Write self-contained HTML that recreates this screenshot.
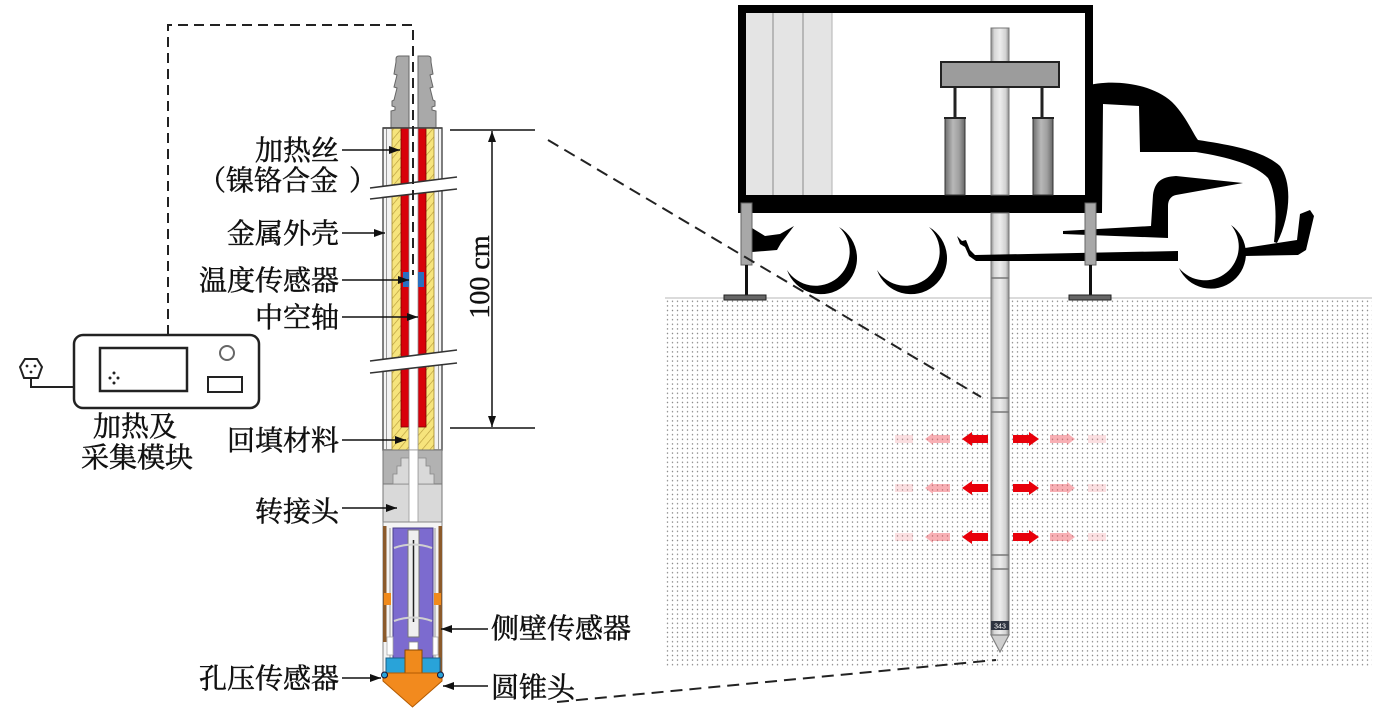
<!DOCTYPE html>
<html><head><meta charset="utf-8">
<style>
html,body{margin:0;padding:0;background:#fff;width:1385px;height:716px;overflow:hidden;}
svg{display:block;}
.lb{font-family:"Liberation Serif","Noto Serif CJK SC",serif;font-size:28px;fill:#111;stroke:#111;stroke-width:0.5px;}
</style></head><body>
<svg width="1385" height="716" viewBox="0 0 1385 716" xmlns="http://www.w3.org/2000/svg">
<defs>
<pattern id="dots" width="5" height="4.6" patternUnits="userSpaceOnUse"><circle cx="2.5" cy="2.3" r="0.75" fill="#8a8a8a"/></pattern>
<pattern id="hatch" width="6" height="6" patternUnits="userSpaceOnUse" patternTransform="rotate(40)"><rect width="6" height="6" fill="#f6e47c"/><line x1="0" y1="0" x2="0" y2="6" stroke="#b89c3c" stroke-width="1.3"/></pattern>
<linearGradient id="rod" x1="0" x2="1" y1="0" y2="0">
<stop offset="0" stop-color="#8a8a8a"/><stop offset="0.18" stop-color="#d6d6d6"/><stop offset="0.5" stop-color="#ededed"/><stop offset="0.82" stop-color="#d2d2d2"/><stop offset="1" stop-color="#8a8a8a"/>
</linearGradient>
<linearGradient id="cyl" x1="0" x2="1" y1="0" y2="0">
<stop offset="0" stop-color="#6e6e6e"/><stop offset="0.4" stop-color="#b8b8b8"/><stop offset="0.7" stop-color="#a0a0a0"/><stop offset="1" stop-color="#666"/>
</linearGradient>
<marker id="ah" markerWidth="11" markerHeight="8" refX="11" refY="4" orient="auto-start-reverse" markerUnits="userSpaceOnUse"><path d="M0,0 L11,4 L0,8 Z" fill="#111"/></marker>
</defs>

<!-- ============ GROUND ============ -->
<rect x="665" y="298" width="707" height="370" fill="url(#dots)"/>
<line x1="665" y1="298" x2="1372" y2="298" stroke="#cfcfcf" stroke-width="1.5"/>

<!-- ============ TRUCK ============ -->
<rect x="738" y="5" width="355" height="208" fill="#000"/>
<rect x="746" y="13" width="339" height="182" fill="#fff"/>
<rect x="746" y="13" width="86" height="182" fill="#e4e4e4"/>
<line x1="773" y1="13" x2="773" y2="195" stroke="#a8a8a8" stroke-width="1.5"/>
<line x1="803" y1="13" x2="803" y2="195" stroke="#a8a8a8" stroke-width="1.5"/>
<line x1="832" y1="13" x2="832" y2="195" stroke="#bdbdbd" stroke-width="1.2"/>

<!-- rod -->
<rect x="991" y="28" width="18" height="167" fill="url(#rod)" stroke="#777" stroke-width="1"/>
<rect x="991" y="213" width="18" height="422" fill="url(#rod)" stroke="#777" stroke-width="1"/>
<g stroke="#777" stroke-width="1.5">
<line x1="991" y1="278" x2="1009" y2="278"/>
<line x1="991" y1="398" x2="1009" y2="398"/>
<line x1="991" y1="412" x2="1009" y2="412"/>
<line x1="991" y1="555" x2="1009" y2="555"/>
<line x1="991" y1="569" x2="1009" y2="569"/>
</g>
<rect x="991" y="621" width="18" height="9" fill="#2e3440"/>
<text x="1000" y="628.5" text-anchor="middle" font-family="Liberation Sans, sans-serif" font-size="7" fill="#fff">343</text>
<path d="M991,635 L1009,635 L1000,652 Z" fill="#cfcfcf" stroke="#808080" stroke-width="1.2"/>

<!-- crossbar + cylinders -->
<line x1="955" y1="87" x2="955" y2="118" stroke="#222" stroke-width="3"/>
<line x1="1042" y1="87" x2="1042" y2="118" stroke="#222" stroke-width="3"/>
<rect x="941" y="62" width="118" height="25" fill="#9c9c9c" stroke="#222" stroke-width="2"/>
<rect x="945" y="118" width="20" height="77" fill="url(#cyl)" stroke="#333" stroke-width="1"/>
<rect x="1033" y="118" width="20" height="77" fill="url(#cyl)" stroke="#333" stroke-width="1"/>
<line x1="944" y1="118" x2="966" y2="118" stroke="#222" stroke-width="2"/>
<line x1="1032" y1="118" x2="1054" y2="118" stroke="#222" stroke-width="2"/>

<!-- cab -->
<path d="M1085,86 C1110,79 1150,82 1172,102 C1186,116 1192,132 1198,140 C1230,145 1262,150 1280,166 C1292,182 1291,215 1277,243 L1274,242 C1277,215 1276,192 1268,178 C1256,165 1228,157 1196,152 L1140,152 L1139,106 L1103,104 L1102,213 L1085,213 Z" fill="#000"/>
<path d="M1063,231 L1151,226 L1153,195 C1155,181 1162,177 1176,176 L1243,183 L1176,195 C1171,196 1168,200 1168,206 L1168,238 L1063,234 Z" fill="#000"/>
<path d="M957,236 L962,241 L966,240 L970,250 L975,255 L1178,251 L1178,261 L976,261 L969,256 L965,247 L960,244 Z" fill="#000"/>
<path d="M1245,248 L1297,240 L1300,214 L1310,210 L1314,216 L1306,250 L1298,255 L1245,256 Z" fill="#000"/>
<path d="M752,228 L765,236 L780,234 L794,226 L781,243 L777,250 L752,252 Z" fill="#000"/>
<path d="M839,227 A36,36 0 1,1 787,270 A34,34 0 1,0 839,227 Z" fill="#000"/>
<path d="M929,227 A36,36 0 1,1 877,270 A34,34 0 1,0 929,227 Z" fill="#000"/>
<path d="M1231,225 A35,35 0 1,1 1179,268 A33,33 0 1,0 1231,225 Z" fill="#000"/>

<!-- jacks -->
<rect x="741" y="203" width="11" height="62" fill="#a8a8a8" stroke="#666" stroke-width="1"/>
<line x1="746.5" y1="265" x2="746.5" y2="296" stroke="#111" stroke-width="3"/>
<rect x="724" y="295" width="42" height="5" fill="#666" stroke="#222" stroke-width="1"/>
<rect x="1085" y="203" width="11" height="62" fill="#a8a8a8" stroke="#666" stroke-width="1"/>
<line x1="1090.5" y1="265" x2="1090.5" y2="296" stroke="#111" stroke-width="3"/>
<rect x="1069" y="295" width="42" height="5" fill="#666" stroke="#222" stroke-width="1"/>

<!-- heat arrows -->
<g fill="#e8000a">
<path d="M962,439 L972,432 L972,435 L988,435 L988,443 L972,443 L972,446 Z"/>
<path d="M1039,439 L1029,432 L1029,435 L1013,435 L1013,443 L1029,443 L1029,446 Z"/>
<path d="M962,488 L972,481 L972,484 L988,484 L988,492 L972,492 L972,495 Z"/>
<path d="M1039,488 L1029,481 L1029,484 L1013,484 L1013,492 L1029,492 L1029,495 Z"/>
<path d="M962,537 L972,530 L972,533 L988,533 L988,541 L972,541 L972,544 Z"/>
<path d="M1039,537 L1029,530 L1029,533 L1013,533 L1013,541 L1029,541 L1029,544 Z"/>
</g>
<g fill="#f0505a" opacity="0.45">
<path d="M925,439 L933,433 L933,435 L950,435 L950,443 L933,443 L933,445 Z"/>
<path d="M1075,439 L1067,433 L1067,435 L1050,435 L1050,443 L1067,443 L1067,445 Z"/>
<path d="M925,488 L933,482 L933,484 L950,484 L950,492 L933,492 L933,494 Z"/>
<path d="M1075,488 L1067,482 L1067,484 L1050,484 L1050,492 L1067,492 L1067,494 Z"/>
<path d="M925,537 L933,531 L933,533 L950,533 L950,541 L933,541 L933,543 Z"/>
<path d="M1075,537 L1067,531 L1067,533 L1050,533 L1050,541 L1067,541 L1067,543 Z"/>
</g>
<g fill="#f0707a" opacity="0.22">
<rect x="895" y="435" width="18" height="8"/>
<rect x="1088" y="435" width="18" height="8"/>
<rect x="895" y="484" width="18" height="8"/>
<rect x="1088" y="484" width="18" height="8"/>
<rect x="895" y="533" width="18" height="8"/>
<rect x="1088" y="533" width="18" height="8"/>
</g>

<!-- long dashed connector lines -->
<g stroke="#222" stroke-width="2" stroke-dasharray="12 7" fill="none">
<line x1="548" y1="140" x2="981" y2="397"/>
<line x1="557" y1="702" x2="996" y2="660"/>
</g>

<!-- ============ MODULE ============ -->
<rect x="74" y="335" width="185" height="73" rx="9" fill="#fff" stroke="#222" stroke-width="2.5"/>
<rect x="100" y="348" width="87" height="43" fill="none" stroke="#222" stroke-width="2.5"/>
<g fill="#222"><circle cx="114" cy="373" r="1.5"/><circle cx="110" cy="378" r="1.5"/><circle cx="118" cy="378" r="1.5"/><circle cx="114" cy="383" r="1.5"/></g>
<circle cx="227" cy="353" r="7" fill="none" stroke="#666" stroke-width="2"/>
<rect x="208" y="377" width="34" height="15" fill="none" stroke="#222" stroke-width="2"/>
<path d="M74,387 H31 V378" fill="none" stroke="#222" stroke-width="2"/>
<path d="M25,359 H37 L42,367 L38,378 H24 L20,367 Z" fill="#fff" stroke="#222" stroke-width="2"/>
<g fill="#222"><circle cx="27" cy="366" r="1.4"/><circle cx="35" cy="366" r="1.4"/><circle cx="31" cy="372" r="1.4"/></g>
<text class="lb" x="135" y="436" text-anchor="middle">加热及</text>
<text class="lb" x="137" y="467" text-anchor="middle">采集模块</text>

<!-- ============ PROBE ============ -->
<path d="M409,56 L399,56 Q396,56 396,59 L396,62 L394,74 L397,75 L394,87 L397,88 L394,100 L392,101 L392,106 L395,107 L395,110 L391,111 L391,128 L409,128 Z" fill="#a9a9a9" stroke="#666" stroke-width="1"/>
<path d="M418,56 L428,56 Q431,56 431,59 L431,62 L433,74 L430,75 L433,87 L430,88 L433,100 L435,101 L435,106 L432,107 L432,110 L436,111 L436,128 L418,128 Z" fill="#a9a9a9" stroke="#666" stroke-width="1"/>

<rect x="383" y="128" width="59" height="322" fill="#f3f3f3" stroke="#555" stroke-width="1.5"/>
<line x1="386.5" y1="128" x2="386.5" y2="450" stroke="#9a9a9a" stroke-width="1"/>
<line x1="438.5" y1="128" x2="438.5" y2="450" stroke="#9a9a9a" stroke-width="1"/>
<rect x="392" y="128" width="17" height="322" fill="url(#hatch)" stroke="#a08830" stroke-width="0.8"/>
<rect x="418" y="128" width="16" height="322" fill="url(#hatch)" stroke="#a08830" stroke-width="0.8"/>
<rect x="401" y="128" width="8" height="299" fill="#d8000a" stroke="#7a0000" stroke-width="0.8"/>
<rect x="418" y="128" width="8" height="299" fill="#d8000a" stroke="#7a0000" stroke-width="0.8"/>
<rect x="409" y="128" width="9" height="402" fill="#fff"/>
<line x1="409" y1="128" x2="409" y2="450" stroke="#999" stroke-width="0.8"/>
<line x1="418" y1="128" x2="418" y2="450" stroke="#999" stroke-width="0.8"/>
<line x1="383" y1="128" x2="442" y2="128" stroke="#444" stroke-width="1.5"/>
<rect x="403" y="272" width="6" height="15" fill="#2a6fc0"/>
<rect x="418" y="272" width="6" height="15" fill="#2a6fc0"/>

<polygon points="370,188 457,177 457,189 370,199" fill="#fff"/>
<line x1="370" y1="188" x2="457" y2="177" stroke="#333" stroke-width="1.6"/>
<line x1="370" y1="199" x2="457" y2="189" stroke="#333" stroke-width="1.6"/>
<polygon points="370,361 457,350 457,363 370,373" fill="#fff"/>
<line x1="370" y1="361" x2="457" y2="350" stroke="#333" stroke-width="1.6"/>
<line x1="370" y1="373" x2="457" y2="363" stroke="#333" stroke-width="1.6"/>

<rect x="383" y="450" width="59" height="72" fill="#d9d9d9" stroke="#777" stroke-width="1"/>
<rect x="383" y="450" width="59" height="34" fill="#b2b2b2" stroke="#777" stroke-width="1"/>
<path d="M409,458 L401,458 L401,466 L397,466 L397,474 L393,474 L393,484 L409,484 Z" fill="#d9d9d9" stroke="#888" stroke-width="0.8"/>
<path d="M418,458 L426,458 L426,466 L430,466 L430,474 L434,474 L434,484 L418,484 Z" fill="#d9d9d9" stroke="#888" stroke-width="0.8"/>
<rect x="409" y="450" width="9" height="80" fill="#fff" stroke="#999" stroke-width="0.8"/>

<rect x="383" y="522" width="59" height="151" fill="#f4f4f4" stroke="#888" stroke-width="1"/>
<rect x="383" y="526" width="3.5" height="116" fill="#8b5a2b"/>
<rect x="438.5" y="526" width="3.5" height="147" fill="#8b5a2b"/>
<line x1="390" y1="528" x2="390" y2="660" stroke="#999" stroke-width="1"/>
<line x1="435" y1="528" x2="435" y2="660" stroke="#999" stroke-width="1"/>
<rect x="393" y="528" width="40" height="132" fill="#7c6bcf" stroke="#4a3f8a" stroke-width="1"/>
<rect x="408" y="530" width="11" height="107" fill="#efefef" stroke="#777" stroke-width="1"/>
<line x1="413.5" y1="540" x2="413.5" y2="622" stroke="#222" stroke-width="1.5"/>
<path d="M394,548 Q413,541 432,548" fill="none" stroke="#d0d0d0" stroke-width="2"/>
<path d="M394,621 Q413,614 432,621" fill="none" stroke="#d0d0d0" stroke-width="2"/>
<rect x="384" y="593" width="7" height="12" fill="#f08a1c"/>
<rect x="434" y="593" width="7" height="12" fill="#f08a1c"/>
<rect x="387" y="637" width="6" height="18" fill="#fff" stroke="#aaa" stroke-width="0.8"/>
<rect x="433" y="637" width="5" height="18" fill="#fff" stroke="#aaa" stroke-width="0.8"/>
<rect x="409" y="642" width="9" height="9" fill="#fff" stroke="#888" stroke-width="0.8"/>
<rect x="386" y="658" width="19" height="15" fill="#29a3d9" stroke="#1a5f88" stroke-width="1"/>
<rect x="422" y="658" width="18" height="15" fill="#29a3d9" stroke="#1a5f88" stroke-width="1"/>
<rect x="405" y="650" width="17" height="24" fill="#f08a1c" stroke="#8a4a00" stroke-width="1"/>
<path d="M383,673 H442 V681 L412.5,707 L383,681 Z" fill="#f28a1e" stroke="#b35a00" stroke-width="1"/>
<circle cx="384.5" cy="675" r="3" fill="#29a3d9" stroke="#113" stroke-width="1"/>
<circle cx="440.5" cy="675" r="3" fill="#29a3d9" stroke="#113" stroke-width="1"/>

<path d="M168,335 V25 H413 V275" fill="none" stroke="#222" stroke-width="2" stroke-dasharray="10 6"/>

<!-- ============ LABELS & ARROWS ============ -->
<g stroke="#111" stroke-width="1.5" fill="none">
<line x1="342" y1="150" x2="400" y2="150" marker-end="url(#ah)"/>
<line x1="342" y1="233" x2="385" y2="233" marker-end="url(#ah)"/>
<line x1="342" y1="280" x2="409" y2="280" marker-end="url(#ah)"/>
<line x1="342" y1="317" x2="418" y2="317" marker-end="url(#ah)"/>
<line x1="342" y1="440" x2="406" y2="440" marker-end="url(#ah)"/>
<line x1="342" y1="508" x2="397" y2="508" marker-end="url(#ah)"/>
<line x1="488" y1="629" x2="441" y2="629" marker-end="url(#ah)"/>
<line x1="342" y1="678" x2="381" y2="678" marker-end="url(#ah)"/>
<line x1="488" y1="686" x2="443" y2="686" marker-end="url(#ah)"/>
</g>
<text class="lb" x="339" y="160" text-anchor="end">加热丝</text>
<text class="lb" x="198" y="190">（</text>
<text class="lb" x="338" y="190" text-anchor="end">镍铬合金</text>
<text class="lb" x="349" y="190">）</text>
<text class="lb" x="339" y="243" text-anchor="end">金属外壳</text>
<text class="lb" x="339" y="290" text-anchor="end">温度传感器</text>
<text class="lb" x="339" y="327" text-anchor="end">中空轴</text>
<text class="lb" x="339" y="450" text-anchor="end">回填材料</text>
<text class="lb" x="339" y="521" text-anchor="end">转接头</text>
<text class="lb" x="491" y="638">侧壁传感器</text>
<text class="lb" x="339" y="688" text-anchor="end">孔压传感器</text>
<text class="lb" x="491" y="697">圆锥头</text>

<line x1="450" y1="130" x2="535" y2="130" stroke="#111" stroke-width="1.5"/>
<line x1="450" y1="428" x2="535" y2="428" stroke="#111" stroke-width="1.5"/>
<line x1="492" y1="131" x2="492" y2="427" stroke="#111" stroke-width="1.5" marker-start="url(#ah)" marker-end="url(#ah)"/>
<text transform="translate(489,277) rotate(-90)" text-anchor="middle" font-family="Liberation Serif, serif" font-size="28" fill="#111" stroke="#111" stroke-width="0.4">100 cm</text>
</svg>
</body></html>
